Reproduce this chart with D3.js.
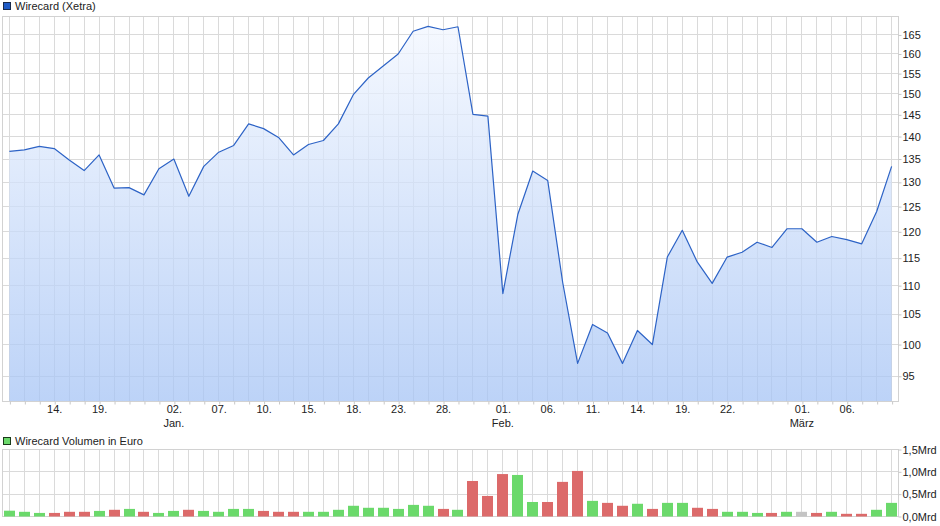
<!DOCTYPE html>
<html>
<head>
<meta charset="utf-8">
<script src="https://cdn.jsdelivr.net/npm/d3@7"></script>
<style>
  body { margin: 0; background: #fff; }
  text { font-family: "Liberation Sans", Arial, sans-serif; font-size: 11px; fill: #222; }
</style>
</head>
<body>
<svg id="chart" width="940" height="526"></svg>
<script>
// Wirecard (Xetra), daily closes Dec 2018 - Mar 2019, plus traded volume in EUR

const days = [
  "2018-12-11", "2018-12-12", "2018-12-13", "2018-12-14", "2018-12-17", "2018-12-18",
  "2018-12-19", "2018-12-20", "2018-12-21", "2018-12-27", "2018-12-28",
  "2019-01-02", "2019-01-03", "2019-01-04", "2019-01-07", "2019-01-08", "2019-01-09",
  "2019-01-10", "2019-01-11", "2019-01-14", "2019-01-15", "2019-01-16", "2019-01-17",
  "2019-01-18", "2019-01-21", "2019-01-22", "2019-01-23", "2019-01-24", "2019-01-25",
  "2019-01-28", "2019-01-29", "2019-01-30", "2019-01-31",
  "2019-02-01", "2019-02-04", "2019-02-05", "2019-02-06", "2019-02-07", "2019-02-08",
  "2019-02-11", "2019-02-12", "2019-02-13", "2019-02-14", "2019-02-15", "2019-02-18",
  "2019-02-19", "2019-02-20", "2019-02-21", "2019-02-22", "2019-02-25", "2019-02-26",
  "2019-02-27", "2019-02-28",
  "2019-03-01", "2019-03-04", "2019-03-05", "2019-03-06", "2019-03-07", "2019-03-08",
  "2019-03-11"
];

const closes = [
  136.7, 137.0, 137.8, 137.3, 134.8, 132.5, 135.9, 128.8, 128.9, 127.4,
  132.9, 135.0, 127.1, 133.4, 136.5, 138.0, 142.9, 141.8, 139.8, 135.9,
  138.2, 139.1, 142.9, 149.8, 153.9, 156.9, 160.0, 166.0, 167.3, 166.4,
  167.2, 145.1, 144.7, 108.6, 123.4, 132.4, 130.4, 110.6, 97.0, 103.3,
  101.9, 97.0, 102.3, 100.0, 115.2, 120.3, 114.3, 110.4, 115.2, 116.1,
  118.0, 117.0, 120.6, 120.6, 118.0, 119.1, 118.5, 117.7, 124.0, 133.4
];

// volume in Mio. EUR
const volumes = [
  130, 105, 80, 80, 105, 105, 125, 150, 170, 105,
  80, 125, 150, 125, 105, 170, 170, 125, 105, 105,
  105, 105, 150, 240, 195, 195, 170, 260, 240, 170,
  150, 795, 460, 950, 930, 325, 325, 775, 1020, 350,
  305, 240, 285, 170, 305, 305, 195, 170, 105, 105,
  80, 80, 105, 105, 80, 105, 60, 60, 150, 305
];

const prevClose = 136.0;

const tickDays = [
  "2018-12-14", "2018-12-19", "2019-01-02", "2019-01-07", "2019-01-10", "2019-01-15",
  "2019-01-18", "2019-01-23", "2019-01-28", "2019-02-01", "2019-02-06", "2019-02-11",
  "2019-02-14", "2019-02-19", "2019-02-22", "2019-03-01", "2019-03-06"
];
const monthDays = ["2019-01-02", "2019-02-01", "2019-03-01"];
const monthNames = ["Jan.", "Feb.", "März"];

const priceTicks = [95, 100, 105, 110, 115, 120, 125, 130, 135, 140, 145, 150, 155, 160, 165];
const volumeTicks = [0, 500, 1000, 1500];

const left = 2.5;
const right = 898.5;
const main = { top: 16.5, bottom: 401.5 };
const vol = { top: 449.5, bottom: 516.5 };
const gridColor = "#dadada";

const svg = d3.select("#chart");

const x = d3.scalePoint().domain(days).range([left, right]).padding(0.46);
const y = d3.scaleLog().domain([91.2, 170]).range([main.bottom, main.top]);
const yVol = d3.scaleLinear().domain([0, 1500]).range([vol.bottom, vol.top]);

const crisp = (v) => Math.round(v - 0.5) + 0.5;

// ---------- price panel ----------
const gridMain = svg.append("g");
gridMain
  .selectAll("line.v")
  .data(days)
  .enter()
  .append("line")
  .attr("x1", (d) => crisp(x(d)))
  .attr("x2", (d) => crisp(x(d)))
  .attr("y1", main.top)
  .attr("y2", main.bottom)
  .attr("stroke", gridColor);
gridMain
  .selectAll("line.h")
  .data(priceTicks)
  .enter()
  .append("line")
  .attr("x1", left)
  .attr("x2", right)
  .attr("y1", (d) => crisp(y(d)))
  .attr("y2", (d) => crisp(y(d)))
  .attr("stroke", gridColor);

const defs = svg.append("defs");
const grad = defs
  .append("linearGradient")
  .attr("id", "areaGrad")
  .attr("gradientUnits", "userSpaceOnUse")
  .attr("x1", 0).attr("x2", 0)
  .attr("y1", main.top).attr("y2", main.bottom);
grad.append("stop").attr("offset", 0).attr("stop-color", "#f4f8ff");
grad.append("stop").attr("offset", 1).attr("stop-color", "#a6c4f5");

const area = d3
  .area()
  .x((d, i) => x(days[i]))
  .y0(main.bottom)
  .y1((d) => y(d));

svg
  .append("path")
  .datum(closes)
  .attr("d", area)
  .attr("fill", "url(#areaGrad)")
  .attr("fill-opacity", 0.75);

const line = d3
  .line()
  .x((d, i) => x(days[i]))
  .y((d) => y(d));

svg
  .append("path")
  .datum(closes)
  .attr("d", line)
  .attr("fill", "none")
  .attr("stroke", "#2d63c6")
  .attr("stroke-width", 1.2)
  .attr("stroke-linejoin", "round");

svg
  .append("rect")
  .attr("x", left)
  .attr("y", main.top)
  .attr("width", right - left)
  .attr("height", main.bottom - main.top)
  .attr("fill", "none")
  .attr("stroke", "#d2d2d2");

// x axis
const xAxis = svg
  .append("g")
  .attr("transform", `translate(0,${main.bottom})`)
  .call(
    d3
      .axisBottom(x)
      .tickValues(days)
      .tickSize(3)
      .tickPadding(1)
      .tickFormat((d) => (tickDays.includes(d) ? d.slice(8) + "." : ""))
  );
xAxis.select(".domain").remove();
xAxis.selectAll(".tick line").attr("stroke", "#c8c8c8").attr("x1", 0.5).attr("x2", 0.5);
xAxis.attr("font-size", null).attr("font-family", null);

xAxis
  .selectAll("text.month")
  .data(monthDays)
  .enter()
  .append("text")
  .attr("class", "month")
  .attr("x", (d) => x(d))
  .attr("y", 25.3)
  .attr("text-anchor", "middle")
  .text((d, i) => monthNames[i]);

// y axis
const yAxis = svg
  .append("g")
  .attr("transform", `translate(${right},0)`)
  .call(d3.axisRight(y).tickValues(priceTicks).tickSize(3).tickPadding(1).tickFormat(d3.format("d")));
yAxis.select(".domain").remove();
yAxis.selectAll(".tick line").attr("stroke", "#c8c8c8");
yAxis.attr("font-size", null).attr("font-family", null);

// legend
svg.append("rect")
  .attr("x", 3.5).attr("y", 2.5).attr("width", 7).attr("height", 7)
  .attr("fill", "#1f5bc6").attr("stroke", "#1a2a4a");
svg.append("text").attr("x", 15).attr("y", 10).text("Wirecard (Xetra)");

// ---------- volume panel ----------
const gridVol = svg.append("g");
gridVol
  .selectAll("line.v")
  .data(days)
  .enter()
  .append("line")
  .attr("x1", (d) => crisp(x(d)))
  .attr("x2", (d) => crisp(x(d)))
  .attr("y1", vol.top)
  .attr("y2", vol.bottom)
  .attr("stroke", gridColor);
gridVol
  .selectAll("line.h")
  .data(volumeTicks)
  .enter()
  .append("line")
  .attr("x1", left)
  .attr("x2", right)
  .attr("y1", (d) => crisp(yVol(d)))
  .attr("y2", (d) => crisp(yVol(d)))
  .attr("stroke", gridColor);

svg
  .append("rect")
  .attr("x", left)
  .attr("y", vol.top)
  .attr("width", right - left)
  .attr("height", vol.bottom - vol.top)
  .attr("fill", "none")
  .attr("stroke", "#d2d2d2");

const barColor = (i) => {
  const before = i === 0 ? prevClose : closes[i - 1];
  if (closes[i] > before) return "#6bd96b";
  if (closes[i] < before) return "#dc6a6a";
  return "#c4c4c4";
};

svg
  .append("g")
  .selectAll("rect")
  .data(volumes)
  .enter()
  .append("rect")
  .attr("x", (d, i) => Math.round(x(days[i]) - 5.5))
  .attr("width", 11)
  .attr("y", (d) => yVol(d))
  .attr("height", (d) => yVol(0) - yVol(d))
  .attr("fill", (d, i) => barColor(i));

const volAxis = svg
  .append("g")
  .attr("transform", `translate(${right},0)`)
  .call(
    d3
      .axisRight(yVol)
      .tickValues(volumeTicks)
      .tickSize(3)
      .tickPadding(1)
      .tickFormat((d) => d3.format(".1f")(d / 1000).replace(".", ",") + "Mrd")
  );
volAxis.select(".domain").remove();
volAxis.selectAll(".tick line").attr("stroke", "#c8c8c8");
volAxis.attr("font-size", null).attr("font-family", null);

svg.append("rect")
  .attr("x", 3.5).attr("y", 437.5).attr("width", 7).attr("height", 7)
  .attr("fill", "#6bd96b").attr("stroke", "#1a3a1a");
svg.append("text").attr("x", 15).attr("y", 444.5).text("Wirecard Volumen in Euro");
</script>
</body>
</html>
